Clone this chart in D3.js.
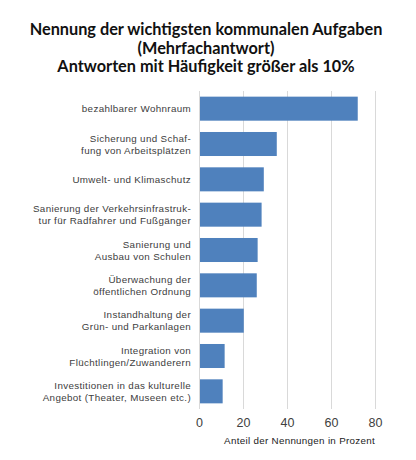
<!DOCTYPE html>
<html>
<head>
<meta charset="utf-8">
<script src="https://cdn.jsdelivr.net/npm/d3@7"></script>
<style>
  body { margin: 0; background: #fff; }
</style>
</head>
<body>
<div id="chart"></div>
<script>
// categories (line breaks as in the original labels)
var categories = [
  "bezahlbarer Wohnraum",
  "Sicherung und Schaf-\nfung von Arbeitsplätzen",
  "Umwelt- und Klimaschutz",
  "Sanierung der Verkehrsinfrastruk-\ntur für Radfahrer und Fußgänger",
  "Sanierung und\nAusbau von Schulen",
  "Überwachung der\nöffentlichen Ordnung",
  "Instandhaltung der\nGrün- und Parkanlagen",
  "Integration von\nFlüchtlingen/Zuwanderern",
  "Investitionen in das kulturelle\nAngebot (Theater, Museen etc.)"
];
var values = [71.7, 34.9, 29, 28, 26.2, 25.8, 19.9, 11.2, 10.3];
var xTicks = [0, 20, 40, 60, 80];
var titleLines = [
  "Nennung der wichtigsten kommunalen Aufgaben",
  "(Mehrfachantwort)",
  "Antworten mit Häufigkeit größer als 10%"
];

var width = 416, height = 460;
var margin = {top: 91, right: 41, bottom: 51, left: 199};

var svg = d3.select("#chart")
    .append("svg")
    .attr("width", width)
    .attr("height", height);

// title
svg.append("g")
    .selectAll("text")
    .data(titleLines)
    .enter()
    .append("text")
    .attr("x", 206)
    .attr("y", function(d, i) { return 35 + i * 18.5; })
    .attr("text-anchor", "middle")
    .attr("font-family", "Lato, sans-serif")
    .attr("font-weight", "bold")
    .attr("font-size", 16.3)
    .attr("fill", "#111")
    .text(function(d) { return d; });

var g = svg.append("g")
    .attr("transform", "translate(" + margin.left + "," + margin.top + ")");

var w = width - margin.left - margin.right,
    h = height - margin.top - margin.bottom;

var x = d3.scaleLinear()
    .domain([0, 80])
    .range([0, w]);

var y = d3.scaleBand()
    .domain(categories)
    .range([0, h])
    .paddingInner(0.32)
    .paddingOuter(0.16);

// gridlines
g.append("g")
    .selectAll("line")
    .data(xTicks)
    .enter()
    .append("line")
    .attr("x1", function(d) { return x(d) + 0.5; })
    .attr("x2", function(d) { return x(d) + 0.5; })
    .attr("y1", 0)
    .attr("y2", h)
    .attr("stroke", "#d9d9d9")
    .attr("stroke-width", 1);

// bars
g.append("g")
    .selectAll("rect")
    .data(values)
    .enter()
    .append("rect")
    .attr("x", x(0) + 1)
    .attr("y", function(d, i) { return y(categories[i]); })
    .attr("width", function(d) { return x(d) - x(0); })
    .attr("height", y.bandwidth())
    .attr("fill", "#4f81bd");

// x axis (labels only)
var xAxis = g.append("g")
    .attr("transform", "translate(0," + h + ")")
    .call(d3.axisBottom(x).tickValues(xTicks).tickSize(0).tickPadding(9));
xAxis.select(".domain").remove();
xAxis.selectAll("text")
    .attr("font-family", "Liberation Sans, Arial, sans-serif")
    .attr("font-size", 12.5)
    .attr("fill", "#404040");

// y axis labels, multi-line
var yAxis = g.append("g")
    .call(d3.axisLeft(y).tickSize(0).tickPadding(8).tickFormat(""));
yAxis.select(".domain").remove();
yAxis.selectAll(".tick").each(function(d) {
  var lines = d.split("\n");
  var t = d3.select(this).select("text")
      .attr("dy", null)
      .attr("font-family", "Liberation Sans, Arial, sans-serif")
      .attr("font-size", 9.8)
      .attr("letter-spacing", 0.35)
      .attr("fill", "#404040");
  lines.forEach(function(l, i) {
    t.append("tspan")
        .attr("x", -8)
        .attr("y", 3.5 + (i - (lines.length - 1) / 2) * 12)
        .text(l);
  });
});

// x axis title
g.append("text")
    .attr("x", w)
    .attr("y", h + 35)
    .attr("text-anchor", "end")
    .attr("font-family", "Liberation Sans, Arial, sans-serif")
    .attr("font-size", 9.8)
    .attr("letter-spacing", 0.3)
    .attr("fill", "#222")
    .text("Anteil der Nennungen in Prozent");
</script>
</body>
</html>
